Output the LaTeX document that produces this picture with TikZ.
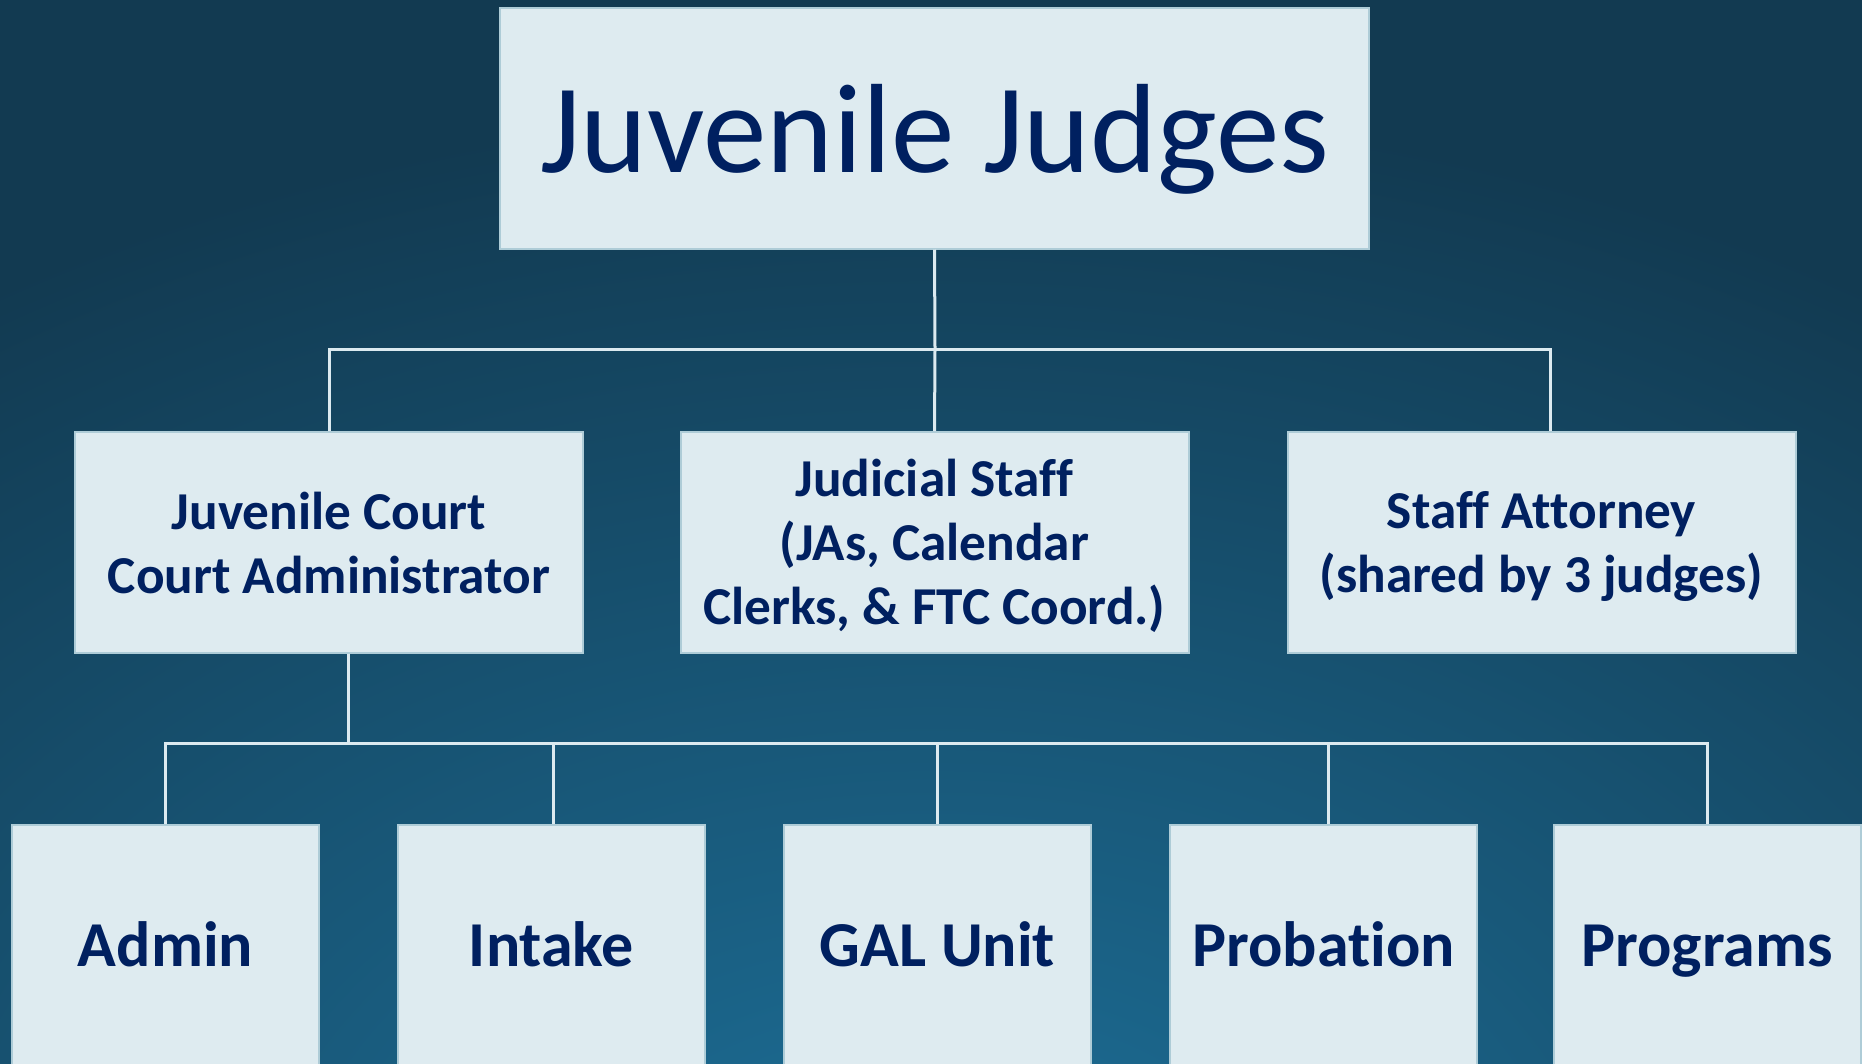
\documentclass[tikz,border=0pt]{standalone}
\usepackage{fontspec}
\setmainfont{Carlito}[Ligatures={NoCommon}]
\usetikzlibrary{calc}
\definecolor{bgdark}{HTML}{123A51}
\definecolor{bglight}{HTML}{1D7099}
\definecolor{boxfill}{HTML}{DEEBF0}
\definecolor{boxline}{HTML}{AECCD7}
\definecolor{navy}{HTML}{002060}
\definecolor{wire}{HTML}{DCEAF0}
% lower a block of centred lines without changing its reported size
\newcommand{\lowered}[2]{\raisebox{-#1}[\height][\depth]{\begin{tabular}{@{}c@{}}#2\end{tabular}}}
\begin{document}
\begin{tikzpicture}[x=1pt,y=-1pt,
  orgbox/.style={draw=boxline, line width=2pt, fill=boxfill, text=navy,
    align=center, inner sep=0pt},
  topbox/.style={orgbox, minimum width=869pt, minimum height=241pt,
    text height=88pt, text depth=0pt,
    font=\fontsize{127}{150}\selectfont},
  midbox/.style={orgbox, minimum width=508pt, minimum height=221pt,
    font=\bfseries\fontsize{53.3}{64}\selectfont},
  lowbox/.style={orgbox, minimum width=307pt, minimum height=242pt,
    text height=41pt, text depth=0pt,
    font=\bfseries\fontsize{64}{76}\selectfont},
  wireline/.style={draw=wire, line width=3pt}]

% background with a soft glow rising from the bottom
\useasboundingbox (0,0) rectangle (1862,1063);
\begin{scope}
  \clip (0,0) rectangle (1862,1063);
  \fill[bgdark] (0,0) rectangle (1862,1063);
  \shade[inner color=bglight, outer color=bgdark]
    (931,1250) ellipse [x radius=1700pt, y radius=1150pt];
\end{scope}

% boxes
\node[topbox] (judges) at (934.5,128) {Juvenile Judges};

\node[midbox] (admin)  at (329,542.5)    {Juvenile Court\\Court Administrator};
\node[midbox] (staff)  at (934.5,542.5)
  {\lowered{5pt}{Judicial Staff\\(JAs, Calendar\\Clerks, \& FTC Coord.)}};
\node[midbox] (atty)   at (1541.5,542.5)
  {\lowered{5pt}{Staff Attorney\\(shared by 3 judges)}};

\node[lowbox] (adm)    at (165.5,946)  {Admin};
\node[lowbox] (intake) at (551.5,946)  {Intake};
\node[lowbox] (gal)    at (937.5,946)  {GAL Unit};
\node[lowbox] (prob)   at (1323.5,946) {Probation};
\node[lowbox] (prog)   at (1707,946)   {Programs};

% connectors
\coordinate (busA) at (935,349);
\coordinate (busB) at (348,743);

\draw[wireline] (judges.south) -- (busA);
\draw[wireline] (admin.north) |- (busA) -| ([xshift=8.5pt]atty.north);
\draw[wireline] (busA) -- (staff.north);

\draw[wireline] ([xshift=19pt]admin.south) -- (busB);
\draw[wireline] (adm.north) |- (busB) -| (prog.north);
\draw[wireline] ([xshift=1.5pt]intake.north) -- ([xshift=1.5pt]intake.north |- busB);
\draw[wireline] (gal.north) -- (gal.north |- busB);
\draw[wireline] ([xshift=4.5pt]prob.north) -- ([xshift=4.5pt]prob.north |- busB);
\end{tikzpicture}
\end{document}
